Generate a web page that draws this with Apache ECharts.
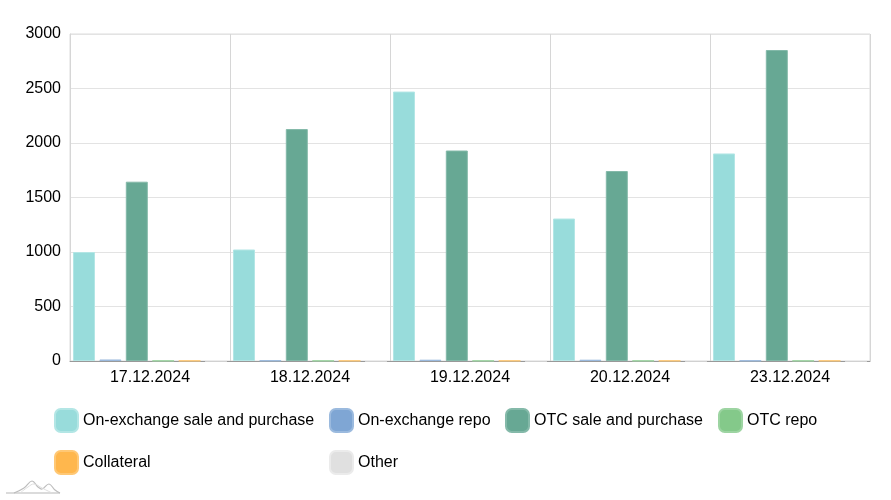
<!DOCTYPE html>
<html>
<head>
<meta charset="utf-8">
<script src="https://cdn.jsdelivr.net/npm/echarts@6/dist/echarts.min.js"></script>
<style>html,body{margin:0;padding:0;background:#fff}#c{width:891px;height:500px}</style>
</head>
<body>
<div id="c"></div>
<script>
const categories = ['17.12.2024', '18.12.2024', '19.12.2024', '20.12.2024', '23.12.2024'];
const seriesNames = ['On-exchange sale and purchase', 'On-exchange repo', 'OTC sale and purchase', 'OTC repo', 'Collateral', 'Other'];
const onExchangeSale = [1000, 1023, 2472, 1307, 1904];
const onExchangeRepo = [14, 5, 12, 12, 4];
const otcSale = [1645, 2128, 1931, 1743, 2853];
const otcRepo = [3, 3, 3, 3, 3];
const collateral = [3, 3, 3, 3, 3];
const other = [1, 1, 1, 1, 1];
const yTicks = [0, 500, 1000, 1500, 2000, 2500, 3000];
const colors = ['#98dcdb', '#7fa6d4', '#67a894', '#84c98a', '#ffb74d', '#e0e0e0'];
const borders = ['#b3e6e5', '#9bbade', '#84b9a9', '#9dd4a2', '#ffc875', '#ebebeb'];

const allValues = [onExchangeSale, onExchangeRepo, otcSale, otcRepo, collateral, other];
const legendLeft = [54, 329, 505, 718, 54, 329];
const legendTop = [408, 408, 408, 408, 450, 450];

const chart = echarts.init(document.getElementById('c'), null, {renderer: 'canvas'});
chart.setOption({
  animation: false,
  color: colors,
  grid: {left: 70, right: 21, top: 34, bottom: 139, show: true, borderColor: '#dddddd', borderWidth: 1},
  xAxis: {
    type: 'category',
    data: categories,
    axisLine: {lineStyle: {color: '#999999'}},
    axisTick: {show: false},
    axisLabel: {color: '#000', fontSize: 16, fontFamily: 'Liberation Sans, Arial', margin: 9},
    splitLine: {show: true, lineStyle: {color: '#d6d6d6'}}
  },
  yAxis: {
    type: 'value',
    min: yTicks[0],
    max: yTicks[yTicks.length - 1],
    interval: 500,
    axisLine: {show: true, lineStyle: {color: '#d6d6d6'}},
    axisTick: {show: false},
    axisLabel: {color: '#000', fontSize: 16, fontFamily: 'Liberation Sans, Arial', margin: 9, formatter: v => String(v)},
    splitLine: {lineStyle: {color: '#e3e3e3'}}
  },
  legend: seriesNames.map((n, i) => ({
    data: [n],
    left: legendLeft[i],
    top: legendTop[i],
    itemWidth: 23,
    itemHeight: 23,
    itemGap: 0,
    icon: 'roundRect',
    selectedMode: false,
    padding: 0,
    textStyle: {color: '#000', fontSize: 16, fontFamily: 'Liberation Sans, Arial'}
  })),
  series: seriesNames.map((n, i) => ({
    name: n,
    type: 'bar',
    data: allValues[i],
    barGap: '20%',
    barCategoryGap: '3.75%',
    itemStyle: {color: colors[i], borderColor: borders[i], borderWidth: 1}
  })),
  graphic: [
    {type: 'line', shape: {x1: 6, y1: 493, x2: 60, y2: 493}, style: {stroke: '#cfcfcf', lineWidth: 1.5}, silent: true},
    {type: 'polyline', shape: {points: [[14, 493], [24, 488], [32, 481], [38, 487], [42, 489], [49, 484], [55, 490], [60, 493]], smooth: 0.4}, style: {stroke: '#bdbdbd', lineWidth: 1.2, fill: null}, silent: true},
    {type: 'polyline', shape: {points: [[20, 493], [28, 487], [34, 484], [42, 488], [52, 493]], smooth: 0.4}, style: {stroke: '#dedede', lineWidth: 1, fill: null}, silent: true}
  ]
});
</script>
</body>
</html>
